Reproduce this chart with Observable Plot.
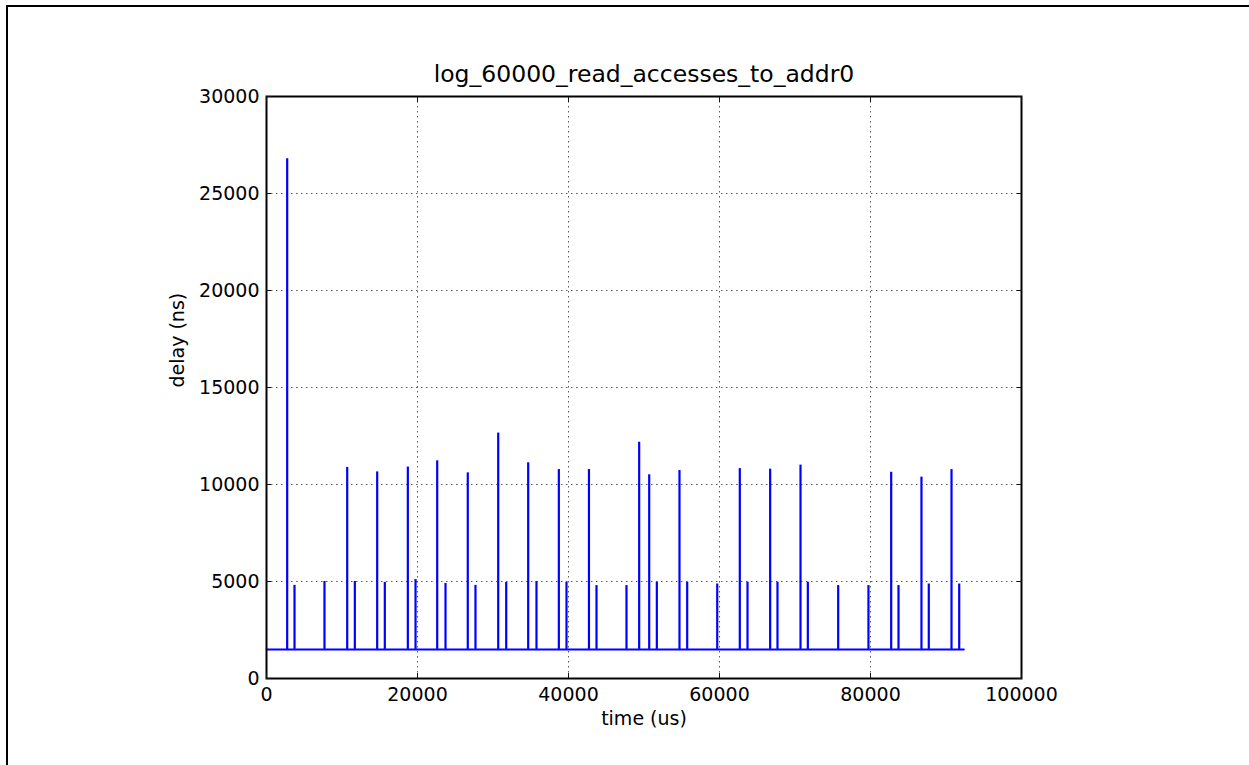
<!DOCTYPE html>
<html>
<head>
<meta charset="utf-8">
<script src="https://cdn.jsdelivr.net/npm/d3@7"></script>
<script src="https://cdn.jsdelivr.net/npm/@observablehq/plot@0.6"></script>
<style>
  html, body { margin: 0; padding: 0; background: #fff; overflow: hidden; }
  #wrap { position: relative; width: 1249px; height: 765px; }
  #border { position: absolute; left: 6px; top: 5px; width: 1400px; height: 1000px; border: 2px solid #000; pointer-events: none; }
  #chart svg { font-family: "DejaVu Sans", sans-serif; }
</style>
</head>
<body>
<div id="wrap"><div id="chart"></div><div id="border"></div></div>
<script>
const titleText = "log_60000_read_accesses_to_addr0";
const xLabel = "time (us)";
const yLabel = "delay (ns)";
const xTicks = [0, 20000, 40000, 60000, 80000, 100000];
const yTicks = [0, 5000, 10000, 15000, 20000, 25000, 30000];

// baseline of the trace
const baseTimes = [0, 92360];
const baseDelays = [1500, 1500];

// tall spikes (~every 4 ms)
const tallTimes = [2740, 10690, 14660, 18720, 22610, 26660, 30690, 34660, 38720, 42710, 49360, 50690, 54700, 62690, 66710, 70730, 82740, 86750, 90730];
const tallDelays = [26790, 10880, 10650, 10900, 11220, 10600, 12650, 11120, 10770, 10770, 12180, 10500, 10720, 10820, 10790, 11000, 10630, 10380, 10770];

// medium spikes (~5000 ns)
const medTimes = [3710, 7680, 11700, 15670, 19740, 23710, 27680, 31750, 35760, 39735, 43710, 47680, 51700, 55720, 59700, 63710, 67680, 71700, 75720, 79730, 83710, 87720, 91750];
const medDelays = [4800, 5000, 5000, 4950, 5100, 4900, 4800, 4950, 5000, 4960, 4790, 4790, 4960, 4960, 4870, 4960, 4960, 4960, 4790, 4790, 4790, 4870, 4870];

const base = baseTimes.map((t, i) => ({t, d: baseDelays[i]}));
const spikes = tallTimes.map((t, i) => ({t, d: tallDelays[i]}))
  .concat(medTimes.map((t, i) => ({t, d: medDelays[i]})));
const baseLevel = baseDelays[0];

const fmt = d3.format("d");
const gridStyle = {stroke: "#000", strokeOpacity: 0.65, strokeWidth: 1, strokeDasharray: "1.5,3.5"};

const chart = Plot.plot({
  width: 1249,
  height: 765,
  marginLeft: 266,
  marginRight: 228,
  marginTop: 96,
  marginBottom: 87,
  style: {fontFamily: "DejaVu Sans, sans-serif", fontSize: "19px", color: "#000", background: "#fff"},
  x: {domain: [0, 100000], ticks: xTicks, tickFormat: fmt},
  y: {domain: [0, 30000], ticks: yTicks, tickFormat: fmt},
  marks: [
    Plot.gridX(xTicks, gridStyle),
    Plot.gridY(yTicks, gridStyle),
    Plot.ruleX(spikes, {x: "t", y1: baseLevel, y2: "d", stroke: "#0000ff", strokeWidth: 2.2}),
    Plot.line(base, {x: "t", y: "d", stroke: "#0000ff", strokeWidth: 2}),
    Plot.frame({stroke: "#000", strokeWidth: 2}),
    Plot.axisX(xTicks, {anchor: "bottom", tickSize: -5, tickPadding: 14, tickFormat: fmt, label: null, fontSize: 19, stroke: "#111"}),
    Plot.axisX(xTicks, {anchor: "top", tickSize: -5, tickFormat: () => "", label: null, stroke: "#111"}),
    Plot.axisY(yTicks, {anchor: "left", tickSize: -5, tickPadding: 12, tickFormat: fmt, label: null, fontSize: 19, stroke: "#111"}),
    Plot.axisY(yTicks, {anchor: "right", tickSize: -5, tickFormat: () => "", label: null, stroke: "#111"}),
    Plot.text([titleText], {frameAnchor: "top", dy: -15, lineAnchor: "bottom", text: d => d, fontSize: 23.5, fill: "#000"}),
    Plot.text([xLabel], {frameAnchor: "bottom", dy: 40, lineAnchor: "middle", text: d => d, fontSize: 19, fill: "#000"}),
    Plot.text([yLabel], {frameAnchor: "left", dx: -89, rotate: -90, lineAnchor: "middle", text: d => d, fontSize: 19, fill: "#000"})
  ]
});
document.getElementById("chart").appendChild(chart);
</script>
</body>
</html>
